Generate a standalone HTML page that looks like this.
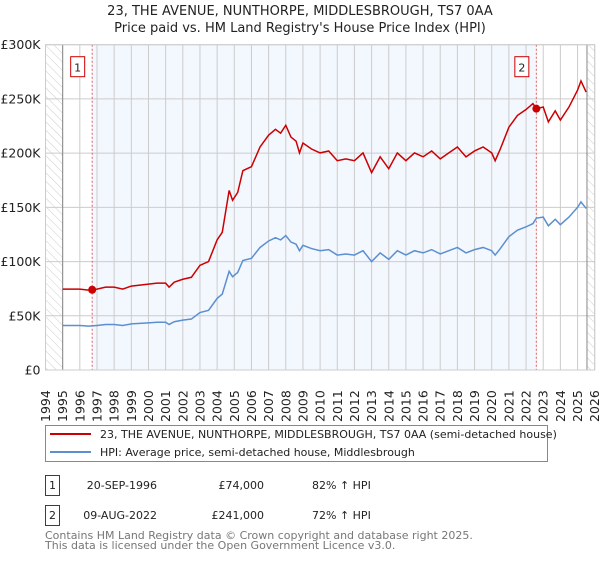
<!DOCTYPE html>
<html><head><meta charset="utf-8"><style>
body{margin:0;background:#fff;font-family:"Liberation Sans","DejaVu Sans",sans-serif;}
svg text{font-family:"DejaVu Sans","Liberation Sans",sans-serif;}
</style></head><body>
<svg id="chart" width="600" height="560" xmlns="http://www.w3.org/2000/svg">
<defs><pattern id="hatch" width="6" height="6" patternUnits="userSpaceOnUse" patternTransform="rotate(-45)"><line x1="0" y1="0" x2="0" y2="6" stroke="#ccc" stroke-width="1"/></pattern></defs>
<text x="300" y="15" text-anchor="middle" font-size="13" fill="#222">23, THE AVENUE, NUNTHORPE, MIDDLESBROUGH, TS7 0AA</text>
<text x="300" y="32" text-anchor="middle" font-size="13" fill="#222">Price paid vs. HM Land Registry's House Price Index (HPI)</text>
<g id="plot"></g>
<g>
<rect x="45.5" y="425.5" width="502" height="36" fill="#fff" stroke="#888"/>
<line x1="50" y1="434" x2="91" y2="434" stroke="#cc0000" stroke-width="2"/>
<text x="100" y="438" font-size="11" fill="#222">23, THE AVENUE, NUNTHORPE, MIDDLESBROUGH, TS7 0AA (semi-detached house)</text>
<line x1="50" y1="452" x2="91" y2="452" stroke="#5b8fd0" stroke-width="2"/>
<text x="100" y="456" font-size="11" fill="#222">HPI: Average price, semi-detached house, Middlesbrough</text>
</g>
<g font-size="11" fill="#222">
<rect x="45.5" y="475.5" width="14" height="20" fill="#fff" stroke="#cc0000"/><text x="52.5" y="489" text-anchor="middle">1</text>
<text x="157" y="489" text-anchor="end">20-SEP-1996</text><text x="264" y="489" text-anchor="end">£74,000</text><text x="312" y="489">82% ↑ HPI</text>
<rect x="45.5" y="505.5" width="14" height="20" fill="#fff" stroke="#cc0000"/><text x="52.5" y="519" text-anchor="middle">2</text>
<text x="157" y="519" text-anchor="end">09-AUG-2022</text><text x="264" y="519" text-anchor="end">£241,000</text><text x="312" y="519">72% ↑ HPI</text>
</g>
<text x="45" y="539" font-size="11" fill="#777">Contains HM Land Registry data © Crown copyright and database right 2025.</text>
<text x="45" y="549" font-size="11" fill="#777">This data is licensed under the Open Government Licence v3.0.</text>
</svg>
<script>
const dates=[1995.0,1995.5,1996.0,1996.5,1997.0,1997.5,1998.0,1998.5,1999.0,1999.5,2000.0,2000.5,2001.0,2001.2,2001.5,2002.0,2002.5,2003.0,2003.5,2004.0,2004.3,2004.7,2004.9,2005.2,2005.5,2006.0,2006.5,2007.0,2007.4,2007.7,2008.0,2008.3,2008.6,2008.8,2009.0,2009.5,2010.0,2010.5,2011.0,2011.5,2012.0,2012.5,2013.0,2013.5,2014.0,2014.5,2015.0,2015.5,2016.0,2016.5,2017.0,2017.5,2018.0,2018.5,2019.0,2019.5,2020.0,2020.2,2020.5,2021.0,2021.5,2022.0,2022.4,2022.6,2023.0,2023.3,2023.7,2024.0,2024.5,2025.0,2025.2,2025.5];
const hpi=[41,41,41,40.5,41,42,42,41,42.5,43,43.5,44,44,42,44.5,46,47,53,55,66,70,91,86,90,101,103,113,119,122,120,124,118,116,110,115,112,110,111,106,107,106,110,100,108,102,110,106,110,108,111,107,110,113,108,111,113,110,106,112,123,129,132,135,140,141,133,139,134,141,150,155,149];
const red=[74.6,74.6,74.6,73.7,74.6,76.4,76.4,74.6,77.4,78.3,79.2,80.1,80.1,76.4,81,83.7,85.5,96.5,100,120,127,165.6,156.5,163.8,183.8,187.5,205.7,216.6,222,218.4,225.7,214.8,211,200.2,209.3,203.8,200.2,202,193,194.7,193,200.2,182,196.6,185.6,200.2,193,200.2,196.6,202,194.7,200.2,205.7,196.6,202,205.7,200.2,193,203.8,223.9,234.8,240.2,245.7,241,242.5,228.8,239,230.5,242.5,258,266.6,256.3];
const yTicks=[0,50,100,150,200,250,300];
const yTickLabels=["£0","£50K","£100K","£150K","£200K","£250K","£300K"];
const years=[1994,1995,1996,1997,1998,1999,2000,2001,2002,2003,2004,2005,2006,2007,2008,2009,2010,2011,2012,2013,2014,2015,2016,2017,2018,2019,2020,2021,2022,2023,2024,2025,2026];
const saleDates=[1996.72,2022.6];
const salePrices=[74,241];
const saleLabels=["1","2"];
const L=45.5,R=594.7,T=44.7,B=370;
const x=v=>L+(v-1994)/32*(R-L);
const y=v=>B-v/300*(B-T);
const NS="http://www.w3.org/2000/svg";
const g=document.getElementById('plot');
function mk(t,a,p){const e=document.createElementNS(NS,t);for(const k in a)e.setAttribute(k,a[k]);(p||g).appendChild(e);return e;}
let e;
e=mk('rect',{x:x(saleDates[0]),y:T,width:x(saleDates[1])-x(saleDates[0]),height:B-T,fill:'#f3f7fe'});


e=mk('rect',{x:L,y:T,width:x(1995)-L,height:B-T,fill:'url(#hatch)'});


e=mk('rect',{x:x(2025.55),y:T,width:R-x(2025.55),height:B-T,fill:'url(#hatch)'});


years.forEach(yr=>{
 e=mk('line',{x1:x(yr),y1:T,x2:x(yr),y2:B,stroke:'#ccc','stroke-width':1});
 
 
 e=mk('text',{x:0,y:0,transform:`translate(${x(yr)+4.5},${B+52}) rotate(-90)`,'font-size':12.5,fill:'#222'});
 e.textContent=yr;
 
 
});
yTicks.forEach((v,i)=>{
 e=mk('line',{x1:L,y1:y(v),x2:R,y2:y(v),stroke:'#ccc','stroke-width':1});
 
 
 e=mk('text',{x:L-5,y:y(v)+4.5,'text-anchor':'end','font-size':12.5,fill:'#222'});
 e.textContent=yTickLabels[i];
 
 
});
e=mk('line',{x1:x(1995),y1:T,x2:x(1995),y2:B,stroke:'#888'});


e=mk('line',{x1:x(2025.55),y1:T,x2:x(2025.55),y2:B,stroke:'#888'});


saleDates.forEach((d,i)=>{
 e=mk('line',{x1:x(d),y1:T,x2:x(d),y2:B,stroke:'#e06060','stroke-dasharray':'2,2'});
 
 
 e=mk('rect',{x:x(d)-21.5,y:T+12,width:14,height:20,fill:'#fff',stroke:'#cc0000'});
 
 
 e=mk('text',{x:x(d)-14.5,y:T+27,'text-anchor':'middle','font-size':11,fill:'#222'});
 e.textContent=saleLabels[i];
 
 
});
e=mk('polyline',{points:dates.map((d,i)=>x(d)+','+y(hpi[i])).join(' '),fill:'none',stroke:'#5b8fd0','stroke-width':1.5});


e=mk('polyline',{points:dates.map((d,i)=>x(d)+','+y(red[i])).join(' '),fill:'none',stroke:'#cc0000','stroke-width':1.5});


saleDates.forEach((d,i)=>{
 e=mk('circle',{cx:x(d),cy:y(salePrices[i]),r:4,fill:'#cc0000'});
 
 
});
e=mk('rect',{x:L,y:T,width:R-L,height:B-T,fill:'none',stroke:'#ccc'});


</script>
</body></html>
